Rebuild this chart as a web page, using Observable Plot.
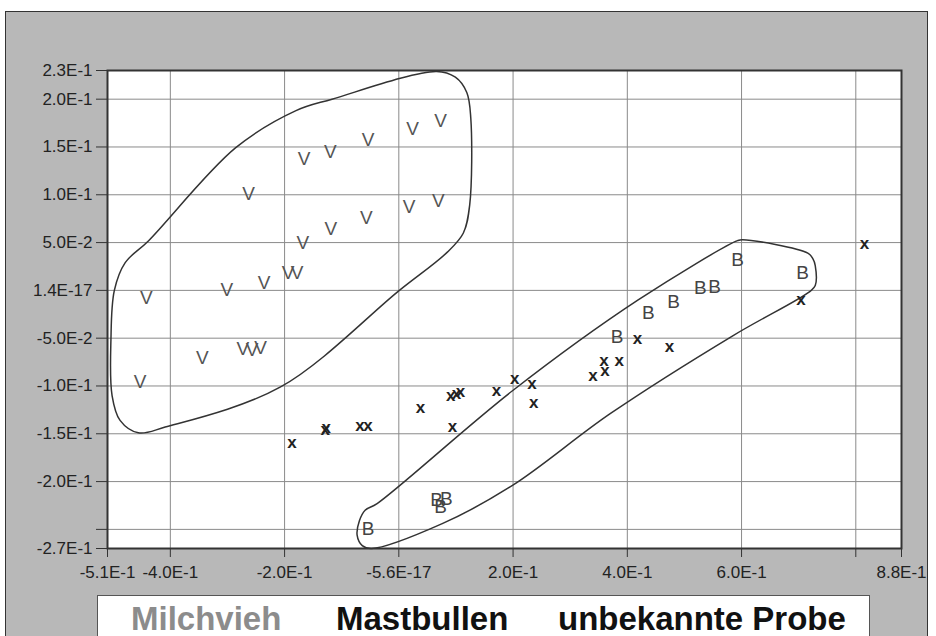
<!DOCTYPE html>
<html>
<head>
<meta charset="utf-8">
<script src="https://cdn.jsdelivr.net/npm/d3@7"></script>
<script src="https://cdn.jsdelivr.net/npm/@observablehq/plot@0.6"></script>
<style>
  html, body { margin: 0; padding: 0; background: #fff; }
  body { width: 936px; height: 636px; overflow: hidden; position: relative; font-family: "Liberation Sans", Arial, sans-serif; }
  #panel { position: absolute; left: 5px; top: 11px; width: 923px; height: 640px; background: #b8b8b8; border: 1.5px solid #333; border-bottom: none; box-sizing: border-box; }
  #chart { position: absolute; left: 0; top: 0; }
  #legend { position: absolute; left: 97px; top: 595px; width: 773px; height: 60px; background: #fff; border: 1.5px solid #555; box-sizing: border-box; }
  #legend span { position: absolute; top: 6px; font-size: 33px; line-height: 33px; font-weight: bold; white-space: nowrap; }
</style>
</head>
<body>
<div id="panel"></div>
<div id="chart"></div>
<div id="legend"></div>
<script>
// Milchvieh samples ("V")
const milchvieh = [
  [-0.263, 0.101], [-0.166, 0.138], [-0.120, 0.145], [-0.054, 0.157], [0.024, 0.169], [0.073, 0.177],
  [0.018, 0.087], [0.069, 0.094], [-0.057, 0.076], [-0.119, 0.064], [-0.168, 0.050],
  [-0.442, -0.008], [-0.301, 0.000], [-0.236, 0.008], [-0.194, 0.018], [-0.178, 0.018],
  [-0.344, -0.071], [-0.273, -0.061], [-0.257, -0.062], [-0.242, -0.060], [-0.453, -0.096]
];
// Mastbullen samples ("B")
const mastbullen = [
  [-0.054, -0.249], [0.066, -0.219], [0.083, -0.218], [0.073, -0.227],
  [0.382, -0.049], [0.437, -0.024], [0.481, -0.012], [0.528, 0.003], [0.553, 0.004],
  [0.593, 0.032], [0.707, 0.018]
];
// unbekannte Probe ("x")
const unbekannt = [
  [-0.187, -0.159], [-0.129, -0.146], [-0.127, -0.144], [-0.068, -0.141], [-0.054, -0.141],
  [0.038, -0.123], [0.091, -0.110], [0.101, -0.108], [0.108, -0.106], [0.094, -0.142],
  [0.171, -0.105], [0.203, -0.092], [0.233, -0.097], [0.236, -0.117], [0.340, -0.089],
  [0.359, -0.073], [0.361, -0.084], [0.386, -0.073], [0.418, -0.050], [0.474, -0.059],
  [0.704, -0.010], [0.815, 0.049]
];
// hand-drawn group outlines
const milchHull = [
  [0.066, 0.229], [0.099, 0.223], [0.119, 0.207], [0.126, 0.180], [0.124, 0.089], [0.113, 0.060],
  [0.085, 0.040], [0.001, 0.000], [-0.207, -0.101], [-0.409, -0.143], [-0.456, -0.149],
  [-0.488, -0.136], [-0.502, -0.110], [-0.504, -0.052], [-0.498, 0.000], [-0.479, 0.029],
  [-0.438, 0.052], [-0.286, 0.149], [-0.180, 0.188], [-0.117, 0.200]
];
const mastHull = [
  [-0.069, -0.241], [-0.059, -0.230], [-0.038, -0.223], [0.199, -0.105], [0.419, -0.010],
  [0.593, 0.052], [0.602, 0.053], [0.716, 0.039], [0.725, 0.033], [0.729, 0.026],
  [0.729, 0.005], [0.720, -0.001], [0.586, -0.047], [0.370, -0.129], [0.199, -0.204],
  [0.076, -0.244], [-0.048, -0.270], [-0.064, -0.267], [-0.073, -0.256]
];
// axes
const xTicks = [-0.51, -0.4, -0.2, 0, 0.2, 0.4, 0.6, 0.8, 0.88];
const xTickLabels = ["-5.1E-1", "-4.0E-1", "-2.0E-1", "-5.6E-17", "2.0E-1", "4.0E-1", "6.0E-1", "", "8.8E-1"];
const yTicks = [0.23, 0.2, 0.15, 0.1, 0.05, 0, -0.05, -0.1, -0.15, -0.2, -0.25, -0.27];
const yTickLabels = ["2.3E-1", "2.0E-1", "1.5E-1", "1.0E-1", "5.0E-2", "1.4E-17", "-5.0E-2", "-1.0E-1", "-1.5E-1", "-2.0E-1", "", "-2.7E-1"];
const xGrid = [-0.4, -0.2, 0, 0.2, 0.4, 0.6, 0.8];
const yGrid = [0.2, 0.15, 0.1, 0.05, 0, -0.05, -0.1, -0.15, -0.2, -0.25];
const legendLabels = ["Milchvieh", "Mastbullen", "unbekannte Probe"];
const legendColors = ["#8c8c8c", "#111", "#111"];
const legendLeft = [33, 238, 460];

const chart = Plot.plot({
  width: 936,
  height: 595,
  marginLeft: 107,
  marginRight: 35,
  marginTop: 70,
  marginBottom: 47,
  style: { background: "transparent", fontFamily: "'Liberation Sans', Arial, sans-serif", fontSize: "17px", color: "#222" },
  x: { domain: [-0.51, 0.88] },
  y: { domain: [-0.27, 0.23] },
  marks: [
    Plot.frame({ fill: "#fff", stroke: null }),
    Plot.gridX(xGrid, { stroke: "#8a8a8a", strokeOpacity: 1, strokeWidth: 1 }),
    Plot.gridY(yGrid, { stroke: "#8a8a8a", strokeOpacity: 1, strokeWidth: 1 }),
    Plot.line(milchHull, { x: d => d[0], y: d => d[1], curve: "catmull-rom-closed", stroke: "#333", strokeWidth: 1.5 }),
    Plot.line(mastHull, { x: d => d[0], y: d => d[1], curve: "catmull-rom-closed", stroke: "#333", strokeWidth: 1.5 }),
    Plot.text(milchvieh, { x: d => d[0], y: d => d[1], text: () => "V", fontSize: 19, fill: "#555" }),
    Plot.text(mastbullen, { x: d => d[0], y: d => d[1], text: () => "B", fontSize: 19, fill: "#444" }),
    Plot.text(unbekannt, { x: d => d[0], y: d => d[1], text: () => "x", fontSize: 17, fill: "#222", fontWeight: "bold" }),
    Plot.frame({ stroke: "#333", strokeWidth: 2 }),
    Plot.axisY({ ticks: yTicks, tickFormat: (d, i) => yTickLabels[i], tickSize: 11, tickPadding: 4, label: null, stroke: "#333" }),
    Plot.axisX({ ticks: xTicks, tickFormat: (d, i) => xTickLabels[i], tickSize: 9, tickPadding: 8, label: null, stroke: "#333" })
  ]
});
document.getElementById("chart").appendChild(chart);

const legend = document.getElementById("legend");
legendLabels.forEach((t, i) => {
  const s = document.createElement("span");
  s.textContent = t;
  s.style.left = legendLeft[i] + "px";
  s.style.color = legendColors[i];
  legend.appendChild(s);
});
</script>
</body>
</html>
